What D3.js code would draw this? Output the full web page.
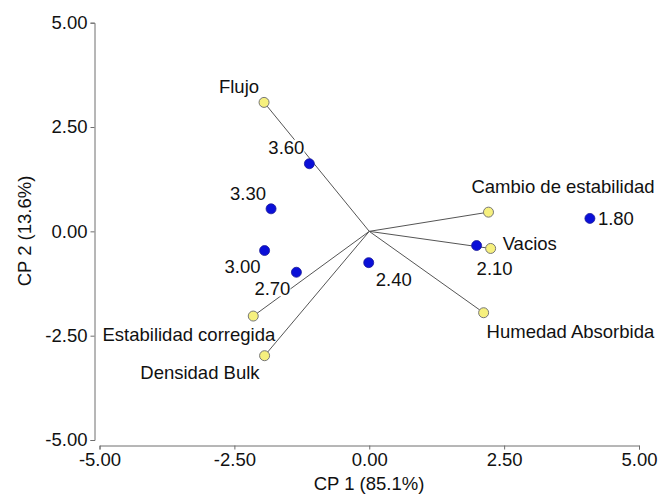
<!DOCTYPE html>
<html>
<head>
<meta charset="utf-8">
<script src="https://cdn.jsdelivr.net/npm/d3@7"></script>
<style>
  body { margin: 0; background: #fff; }
  text { font-family: "Liberation Sans", Arial, sans-serif; }
</style>
</head>
<body>
<div id="chart"></div>
<script>
// Data
const variableNames = ['Flujo', 'Cambio de estabilidad', 'Vacios', 'Humedad Absorbida', 'Estabilidad corregida', 'Densidad Bulk']
const variableCP1 = [-1.95, 2.21, 2.25, 2.12, -2.15, -1.94]
const variableCP2 = [3.09, 0.46, -0.41, -1.95, -2.03, -2.98]

const caseNames = ['3.60', '3.30', '1.80', '2.10', '2.40', '3.00', '2.70']
const caseCP1 = [-1.11, -1.82, 4.09, 1.99, -0.01, -1.94, -1.35]
const caseCP2 = [1.62, 0.54, 0.31, -0.34, -0.75, -0.46, -0.98]

const tickValues = [-5, -2.5, 0, 2.5, 5]

// label placement (offset from marker, anchor)
const labelLayout = {
  'Flujo': [-5, -9, 'end'],
  'Cambio de estabilidad': [-17, -19, 'start'],
  'Vacios': [12, 2, 'start'],
  'Humedad Absorbida': [3, 25, 'start'],
  'Estabilidad corregida': [22, 25, 'end'],
  'Densidad Bulk': [-5, 23, 'end'],
  '3.60': [-5, -10, 'end'],
  '3.30': [-5, -9, 'end'],
  '1.80': [8, 7, 'start'],
  '2.10': [0, 29, 'start'],
  '2.40': [7, 23, 'start'],
  '3.00': [-4, 22, 'end'],
  '2.70': [-6, 23, 'end'],
}

function draw() {
  const width = 660
  const height = 494
  const fontSize = '18.5px'

  const variables = variableNames.map((name, i) => ({ name, x: variableCP1[i], y: variableCP2[i] }))
  const cases = caseNames.map((name, i) => ({ name, x: caseCP1[i], y: caseCP2[i] }))

  const svg = d3.select('#chart')
    .append('svg')
    .attr('width', width)
    .attr('height', height)

  // Scales
  const xScale = d3.scaleLinear().domain([-5, 5]).range([99.5, 639])
  const yScale = d3.scaleLinear().domain([-5, 5]).range([440, 22.7])

  // Axes (plain hyphen for negatives, like the original)
  const fmt = d => d.toFixed(2)
  const axisColor = '#6e6e6e'
  const xAxis = d3.axisBottom(xScale)
    .tickValues(tickValues)
    .tickFormat(fmt)
    .tickSizeOuter(0)
    .tickSize(4)
    .tickPadding(3)
  const yAxis = d3.axisLeft(yScale)
    .tickValues(tickValues)
    .tickFormat(fmt)
    .tickSizeOuter(0)
    .tickSize(4)
    .tickPadding(3)

  const xg = svg.append('g')
    .attr('transform', 'translate(0, 445.5)')
    .call(xAxis)
  const yg = svg.append('g')
    .attr('transform', 'translate(94.5, 0)')
    .call(yAxis)

  ;[xg, yg].forEach(g => {
    g.select('.domain').attr('stroke', axisColor)
    g.selectAll('.tick line').attr('stroke', axisColor)
    g.selectAll('.tick text')
      .attr('fill', '#111')
      .style('font-size', fontSize)
      .style('font-family', '"Liberation Sans", Arial, sans-serif')
  })

  // Axis titles
  svg.append('text')
    .attr('x', 369)
    .attr('y', 490)
    .attr('text-anchor', 'middle')
    .style('font-size', fontSize)
    .attr('fill', '#111')
    .text('CP 1 (85.1%)')

  svg.append('text')
    .attr('transform', 'translate(31, 231) rotate(-90)')
    .attr('text-anchor', 'middle')
    .style('font-size', fontSize)
    .attr('fill', '#111')
    .text('CP 2 (13.6%)')

  // Vectors
  svg.append('g')
    .selectAll('line')
    .data(variables)
    .join('line')
    .attr('x1', xScale(0))
    .attr('y1', yScale(0))
    .attr('x2', d => xScale(d.x))
    .attr('y2', d => yScale(d.y))
    .attr('stroke', '#555')
    .attr('stroke-width', 1)

  // Labels (white background behind them)
  const all = variables.concat(cases)
  const labels = svg.append('g')
    .selectAll('g')
    .data(all)
    .join('g')

  const texts = labels.append('text')
    .attr('x', d => xScale(d.x) + labelLayout[d.name][0])
    .attr('y', d => yScale(d.y) + labelLayout[d.name][1])
    .attr('text-anchor', d => labelLayout[d.name][2])
    .style('font-size', fontSize)
    .attr('fill', '#111')
    .text(d => d.name)

  texts.each(function () {
    const b = this.getBBox()
    d3.select(this.parentNode).insert('rect', 'text')
      .attr('x', b.x)
      .attr('y', b.y + 3)
      .attr('width', b.width)
      .attr('height', b.height - 6)
      .attr('fill', '#fff')
  })

  // Points
  svg.append('g')
    .selectAll('circle')
    .data(variables)
    .join('circle')
    .attr('cx', d => xScale(d.x))
    .attr('cy', d => yScale(d.y))
    .attr('r', 5)
    .attr('fill', '#f6f07e')
    .attr('stroke', '#777')
    .attr('stroke-width', 1)

  svg.append('g')
    .selectAll('circle')
    .data(cases)
    .join('circle')
    .attr('cx', d => xScale(d.x))
    .attr('cy', d => yScale(d.y))
    .attr('r', 5)
    .attr('fill', '#0a0fd8')
    .attr('stroke', '#1a1a9a')
    .attr('stroke-width', 0.8)
}

draw()
</script>
</body>
</html>
